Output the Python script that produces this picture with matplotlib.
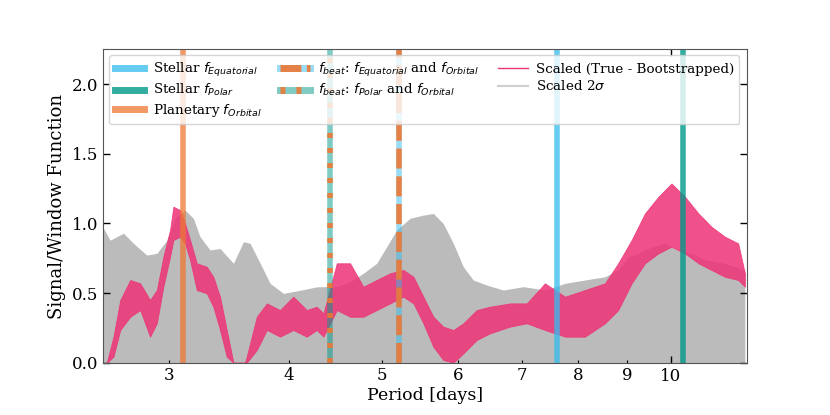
import matplotlib
matplotlib.use("Agg")
import matplotlib.pyplot as plt
from matplotlib.lines import Line2D
import numpy as np

plt.rcParams['font.family'] = ['DejaVu Serif']

# periods of the marked frequencies [days]
p_orbital = 3.10
p_equatorial = 7.62
p_polar = 10.31
p_beat_eq = 5.21   # f_orbital - f_equatorial
p_beat_pol = 4.41  # f_orbital - f_polar

# scaled 2 sigma (upper envelope)
sig_period = [2.561, 2.602, 2.687, 2.752, 2.841, 2.911, 2.982, 3.041, 3.115, 3.178,
              3.229, 3.308, 3.388, 3.499, 3.584, 3.642, 3.731, 3.821, 3.945, 4.107,
              4.274, 4.343, 4.485, 4.63, 4.78, 4.936, 5.056, 5.179, 5.348, 5.521,
              5.655, 5.791, 5.933, 6.077, 6.224, 6.428, 6.69, 7.019, 7.394, 7.759,
              8.139, 8.54, 8.816, 9.032, 9.252, 9.555, 9.863, 10.18, 10.52, 10.86,
              11.39, 11.95]
sig_value = [0.965, 0.88, 0.93, 0.857, 0.773, 0.785, 0.88, 1.037, 1.096, 1.037,
             0.905, 0.81, 0.82, 0.714, 0.869, 0.857, 0.714, 0.57, 0.498, 0.52,
             0.545, 0.546, 0.546, 0.582, 0.642, 0.714, 0.833, 0.953, 1.037, 1.06,
             1.072, 1.0, 0.857, 0.689, 0.594, 0.558, 0.522, 0.546, 0.522, 0.57,
             0.594, 0.617, 0.666, 0.761, 0.785, 0.833, 0.857, 0.81, 0.785, 0.737,
             0.714, 0.666]

# scaled (true - bootstrapped): lower / upper extent of the noisy curve
sig_diff_period = [2.581, 2.623, 2.666, 2.731, 2.797, 2.864, 2.911, 2.957, 3.005, 3.029,
                   3.078, 3.115, 3.153, 3.204, 3.282, 3.334, 3.388, 3.443, 3.499, 3.597,
                   3.612, 3.701, 3.791, 3.913, 4.04, 4.173, 4.274, 4.343, 4.485, 4.63,
                   4.78, 4.936, 5.097, 5.262, 5.391, 5.521, 5.655, 5.791, 5.933, 6.077,
                   6.276, 6.478, 6.798, 7.076, 7.394, 7.759, 8.139, 8.54, 8.816, 9.105,
                   9.401, 9.707, 10.02, 10.35, 10.69, 11.03, 11.39, 11.76, 11.95]
diff_low = [0.0, 0.043, 0.235, 0.33, 0.378, 0.187, 0.283, 0.546, 0.761, 0.881,
            0.905, 0.857, 0.737, 0.522, 0.498, 0.402, 0.235, 0.043, 0.0, 0.0,
            0.0, 0.091, 0.235, 0.187, 0.235, 0.187, 0.235, 0.187, 0.378, 0.33,
            0.33, 0.378, 0.426, 0.474, 0.426, 0.283, 0.115, 0.02, 0.0, 0.067,
            0.163, 0.211, 0.259, 0.283, 0.235, 0.187, 0.187, 0.283, 0.378, 0.57,
            0.714, 0.785, 0.833, 0.785, 0.714, 0.666, 0.617, 0.594, 0.546]
diff_high = [0.0, 0.187, 0.45, 0.594, 0.57, 0.45, 0.522, 0.761, 0.953, 1.12,
             1.096, 1.0, 0.881, 0.714, 0.689, 0.617, 0.474, 0.235, 0.0, 0.0,
             0.043, 0.33, 0.426, 0.378, 0.474, 0.378, 0.402, 0.354, 0.714, 0.714,
             0.546, 0.594, 0.642, 0.666, 0.617, 0.474, 0.33, 0.259, 0.235, 0.283,
             0.378, 0.402, 0.426, 0.426, 0.57, 0.474, 0.522, 0.57, 0.714, 0.881,
             1.072, 1.191, 1.287, 1.191, 1.072, 0.976, 0.905, 0.857, 0.642]

minor_ticks = [3, 4, 5, 6, 7, 8, 9]
major_ticks = [10]

c_eq = '#33BBEE'
c_pol = '#009988'
c_orb = '#EE7733'
c_pink = '#EE3377'
c_grey = '#BBBBBB'

fig = plt.figure(figsize=(8.3, 4.15), dpi=100)
ax = fig.add_axes([0.1245, 0.126, 0.775, 0.755])

ax.fill_between(sig_period, 0, sig_value, color=c_grey, lw=0, zorder=1)
ax.fill_between(sig_diff_period, diff_low, diff_high, color=c_pink, alpha=0.85,
                lw=0.6, edgecolor=c_pink, zorder=2)

lw = 4
ax.axvline(p_equatorial, color=c_eq, alpha=0.75, lw=lw, zorder=3)
ax.axvline(p_polar, color=c_pol, alpha=0.8, lw=lw, zorder=3)
ax.axvline(p_orbital, color=c_orb, alpha=0.75, lw=lw, zorder=3)
# beat lines: light solid base with orange dashes on top
ax.axvline(p_beat_eq, color=c_eq, alpha=0.5, lw=lw, zorder=3)
ax.axvline(p_beat_eq, color=c_orb, alpha=0.9, lw=lw, dashes=(3.6, 1.4), zorder=3)
ax.axvline(p_beat_pol, color=c_pol, alpha=0.5, lw=lw, zorder=3)
ax.axvline(p_beat_pol, color=c_orb, alpha=0.9, lw=lw, dashes=(0.9, 1.8), zorder=3)

ax.set_xscale('log')
ax.set_xlim(2.56, 12.0)
ax.set_ylim(0, 2.25)
ax.set_xticks(major_ticks, [str(t) for t in major_ticks])
ax.set_xticks(minor_ticks, [str(t) for t in minor_ticks], minor=True)
ax.set_yticks([0, 0.5, 1.0, 1.5, 2.0])

ax.tick_params(which='major', direction='in', length=5, width=1, top=True, right=True,
               labelsize=12, color='black')
ax.tick_params(which='minor', direction='in', length=2.5, width=0.8, top=False,
               labelsize=12)
for s in ax.spines.values():
    s.set_color('#555555')
    s.set_zorder(6)

ax.set_xlabel('Period [days]', fontsize=12.5, labelpad=2)
ax.set_ylabel('Signal/Window Function', fontsize=13)

lwl = 5
handles = [
    Line2D([], [], color=c_eq, alpha=0.75, lw=lwl),
    Line2D([], [], color=c_pol, alpha=0.8, lw=lwl),
    Line2D([], [], color=c_orb, alpha=0.75, lw=lwl),
    (Line2D([], [], color=c_eq, alpha=0.5, lw=lwl),
     Line2D([], [], color=c_orb, alpha=0.9, lw=lwl, dashes=(3.0, 0.8), dash_capstyle='butt')),
    (Line2D([], [], color=c_pol, alpha=0.5, lw=lwl),
     Line2D([], [], color=c_orb, alpha=0.9, lw=lwl, dashes=(0.7, 1.6))),
    Line2D([], [], color=c_pink, lw=1),
    Line2D([], [], color=c_grey, alpha=0.7, lw=1.5),
]
labels = [
    r'Stellar $f_{Equatorial}$',
    r'Stellar $f_{Polar}$',
    r'Planetary $f_{Orbital}$',
    r'$f_{beat}$: $f_{Equatorial}$ and $f_{Orbital}$',
    r'$f_{beat}$: $f_{Polar}$ and $f_{Orbital}$',
    'Scaled (True - Bootstrapped)',
    r'Scaled 2$\sigma$',
]
leg = ax.legend(handles, labels, ncol=3, loc='upper left', fontsize=9.7,
                columnspacing=1.4, handlelength=2.2, handletextpad=0.6,
                labelspacing=0.26, borderaxespad=0.45)
leg.set_zorder(10)

fig.savefig('out.png', dpi=100)
